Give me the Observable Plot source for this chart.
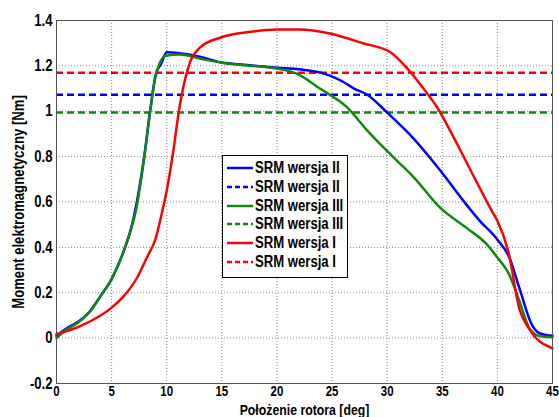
<!DOCTYPE html>
<html>
<head>
<meta charset="utf-8">
<script src="https://cdn.jsdelivr.net/npm/d3@7"></script>
<script src="https://cdn.jsdelivr.net/npm/@observablehq/plot@0.6"></script>
<style>
  body { margin: 0; background: #fff; }
  #wrap { position: relative; width: 559px; height: 417px; font-family: "Liberation Sans", Arial, sans-serif; }
  #legend { position: absolute; left: 222px; top: 155px; width: 124px; height: 121px; background: #fff; border: 1px solid #000; box-sizing: content-box; }
  .row { position: absolute; left: 4px; height: 18px; display: flex; align-items: center; font-weight: bold; font-size: 16px; color: #000; white-space: nowrap; }
  .row svg { margin-right: 2px; flex: none; }
  .row span { display: inline-block; transform: scaleX(0.82); transform-origin: left center; }
</style>
</head>
<body>
<div id="wrap"></div>
<script>
// Series II (blue)
const xII = [0,1,2,3,4,5,6,7,8,8.5,9,9.5,10,11,12,13,15,17,20,22,24,24.8,26,27,28.2,30,32,34.8,37,38.4,39.9,41.1,42,43.1,43.8,45];
const yII = [0.01,0.045,0.073,0.116,0.186,0.26,0.37,0.53,0.815,1.005,1.16,1.21,1.26,1.257,1.25,1.24,1.215,1.205,1.192,1.185,1.17,1.157,1.13,1.1,1.073,0.994,0.90,0.74,0.6,0.517,0.44,0.353,0.22,0.062,0.022,0.01];
// Series III (green)
const xIII = [0,1,2,2.5,3,4,5,5.2,6,6.7,7.2,8,8.5,9,9.9,11.2,13,15.5,20,21.8,23.9,26.3,28.2,30.3,32.4,34.8,37.2,39,40,41,41.9,42.9,43.8,45];
const yIII = [0,0.04,0.07,0.09,0.115,0.185,0.26,0.28,0.37,0.47,0.56,0.81,1.0,1.157,1.245,1.25,1.232,1.21,1.188,1.166,1.10,1.02,0.915,0.81,0.71,0.575,0.486,0.415,0.355,0.287,0.177,0.044,0.009,0.004];
// Series I (red)
const xI = [0,2,4,4.9,6.1,7.3,8.2,9,9.6,10,10.6,11.1,12,13,14.9,17.6,20,22,24.8,27.8,30.3,31.8,33.3,34.5,36.3,38.1,39.5,40,41,42,42.9,45];
const yI = [0.018,0.05,0.1,0.13,0.185,0.265,0.355,0.44,0.56,0.65,0.826,1.0,1.2,1.28,1.325,1.35,1.36,1.36,1.343,1.30,1.26,1.19,1.10,1.02,0.86,0.69,0.56,0.517,0.38,0.128,0.04,-0.045];
// Mean (dashed) levels: II, III, I
const meanValues = [1.073, 0.994, 1.17];
const colors = ["#0000ff", "#118811", "#ff0000"];
const legendLabels = ["SRM wersja II","SRM wersja II","SRM wersja III","SRM wersja III","SRM wersja I","SRM wersja I"];
const xTicks = [0,5,10,15,20,25,30,35,40,45];
const yTicks = [-0.2,0,0.2,0.4,0.6,0.8,1,1.2,1.4];

const series = [
  {xs: xII, ys: yII},
  {xs: xIII, ys: yIII},
  {xs: xI, ys: yI}
];
const rows = series.flatMap((s, k) => s.xs.map((x, i) => ({x, y: s.ys[i], k})));
const means = meanValues.map((v, k) => ({v, k}));

const fmt = d => String(+d.toFixed(1));
const FONT = "Liberation Sans, Arial, sans-serif";
const SX = 0.82;

const chart = Plot.plot({
  width: 559, height: 417,
  marginLeft: 56, marginRight: 7, marginTop: 20, marginBottom: 34,
  style: {fontFamily: FONT, fontSize: "16px", fontWeight: "bold", color: "#000", overflow: "visible"},
  x: {domain: [0, 45]},
  y: {domain: [-0.2, 1.4]},
  marks: [
    Plot.gridX(xTicks, {stroke: "#888", strokeOpacity: 1, strokeDasharray: "1,2"}),
    Plot.gridY(yTicks, {stroke: "#888", strokeOpacity: 1, strokeDasharray: "1,2"}),
    Plot.axisX({ticks: xTicks, tickFormat: fmt, tickSize: 0, tickPadding: 3, fontSize: 14, label: null}),
    Plot.axisX({ticks: [], tickSize: 0, fontSize: 15, label: "Położenie rotora [deg]", labelAnchor: "center", labelArrow: "none", labelOffset: 31}),
    Plot.axisY({ticks: yTicks, tickFormat: fmt, tickSize: 0, tickPadding: 4, label: "Moment elektromagnetyczny [Nm]", labelAnchor: "center", labelArrow: "none", labelOffset: 44}),
    Plot.ruleY(means, {y: "v", stroke: d => colors[d.k], strokeWidth: 2.5, strokeDasharray: "7,4"}),
    Plot.line(rows, {x: "x", y: "y", z: "k", stroke: d => colors[d.k], strokeWidth: 2.5, curve: "monotone-x"}),
    Plot.frame({stroke: "#555", strokeWidth: 1})
  ]
});

// Narrow the text horizontally to mimic the condensed bold face of the original
chart.querySelectorAll("text").forEach(t => {
  const tr = t.getAttribute("transform") || "";
  t.setAttribute("transform", (tr + ` scale(${SX},1)`).trim());
  const x = t.getAttribute("x");
  if (x != null && isFinite(+x)) t.setAttribute("x", +x / SX);
  t.querySelectorAll("tspan").forEach(s => {
    const sx = s.getAttribute("x");
    if (sx != null && isFinite(+sx)) s.setAttribute("x", +sx / SX);
  });
});

const wrap = document.getElementById("wrap");
wrap.appendChild(chart);

const legend = document.createElement("div");
legend.id = "legend";
legendLabels.forEach((lab, i) => {
  const row = document.createElement("div");
  row.className = "row";
  row.style.top = (3 + i * 18.8) + "px";
  const col = colors[Math.floor(i / 2)];
  const dash = i % 2 === 1 ? 'stroke-dasharray="5,3"' : "";
  row.innerHTML = `<svg width="26" height="6"><line x1="0" y1="3" x2="26" y2="3" stroke="${col}" stroke-width="2.5" ${dash}/></svg><span>${lab}</span>`;
  legend.appendChild(row);
});
wrap.appendChild(legend);
</script>
</body>
</html>
